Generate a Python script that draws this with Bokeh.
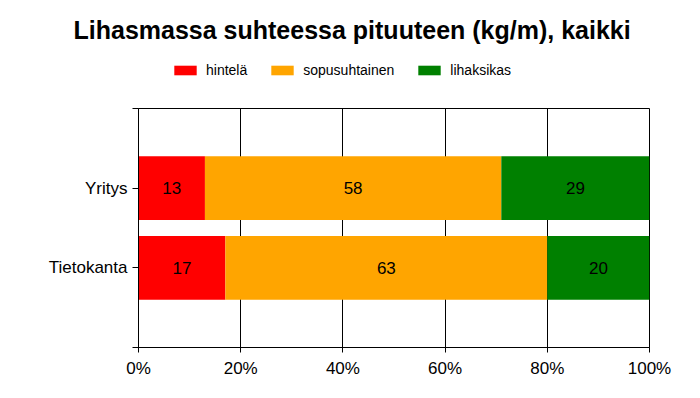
from bokeh.plotting import figure
from bokeh.models import ColumnDataSource, FixedTicker, Legend, LegendItem, LabelSet
from bokeh.layouts import column
from bokeh.core.properties import value
from bokeh.embed import file_html
from bokeh.resources import INLINE

categories = ["Tietokanta", "Yritys"]
hintela = [17, 13]
sopusuhtainen = [63, 58]
lihaksikas = [20, 29]
series_names = ["hintelä", "sopusuhtainen", "lihaksikas"]
colors = ["#ff0000", "#ffa500", "#008000"]
x_ticks = [0, 20, 40, 60, 80, 100]
title_text = "Lihasmassa suhteessa pituuteen (kg/m), kaikki"

font = "Liberation Sans"
W = 692

ypos = [i + 1 for i in range(len(categories))]
src = ColumnDataSource(dict(y=ypos, h=hintela, s=sopusuhtainen, l=lihaksikas))

# ---------- header figure: title + legend ----------
top = figure(width=W, height=104, x_range=(0, 100), y_range=(10, 11), title=title_text,
             x_axis_type=None, y_axis_type=None, output_backend="svg", toolbar_location=None,
             min_border_left=138, min_border_right=43, min_border_top=52, min_border_bottom=0)
top.outline_line_color = None
top.grid.visible = False
top.border_fill_color = "white"
top.background_fill_color = "white"
top.title.align = "left"
top.title.offset = -65
top.title.standoff = 17
top.title.text_font = font
top.title.text_font_size = "25px"
top.title.text_font_style = "bold"
top.title.text_color = "black"

# legend proxies: same data, drawn outside the header's visible y-range
legend_renderers = top.hbar_stack(["h", "s", "l"], y="y", height=0.8, color=colors, source=src, line_width=0)
leg = Legend(items=[LegendItem(label=n, renderers=[r]) for n, r in zip(series_names, legend_renderers)],
             orientation="horizontal", location=(33, 26),
             glyph_width=28, glyph_height=12, label_height=12,
             label_text_font=font, label_text_font_size="14px", label_text_color="black",
             label_standoff=7, spacing=21, padding=0, margin=0,
             border_line_color=None, background_fill_alpha=0)
top.add_layout(leg, "center")

# ---------- main chart ----------
p = figure(width=W, height=286, x_range=(0, 100), y_range=(0, 3),
           output_backend="svg", toolbar_location=None,
           min_border_left=138, min_border_right=43, min_border_top=4, min_border_bottom=43)

renderers = p.hbar_stack(["h", "s", "l"], y="y", height=0.8, color=colors, source=src, line_width=0)

vals = [hintela, sopusuhtainen, lihaksikas]
cum = [0] * len(categories)
lx, ly, lt = [], [], []
for v in vals:
    for i, val in enumerate(v):
        lx.append(cum[i] + val / 2)
        ly.append(ypos[i])
        lt.append(str(val))
        cum[i] += val
lsrc = ColumnDataSource(dict(x=lx, y=ly, t=lt))
p.add_layout(LabelSet(x="x", y="y", text="t", source=lsrc, text_align="center", text_baseline="middle",
                      text_font=value(font), text_font_size=value("17px"), text_color="black"))

p.xaxis.ticker = FixedTicker(ticks=x_ticks)
p.xaxis.major_label_overrides = {t: f"{t}%" for t in x_ticks}
p.yaxis.ticker = FixedTicker(ticks=[0] + ypos + [3])
ov = {0: "", 3: ""}
for i, c in enumerate(categories):
    ov[ypos[i]] = c
p.yaxis.major_label_overrides = ov
for ax in (p.xaxis, p.yaxis):
    ax.axis_line_color = "black"
    ax.major_tick_line_color = "black"
    ax.major_tick_in = 0
    ax.major_tick_out = 6
    ax.minor_tick_line_color = None
    ax.major_label_text_font = font
    ax.major_label_text_font_size = "17px"
    ax.major_label_text_color = "black"
    ax.major_label_standoff = 5
p.xaxis.major_tick_out = 5
p.xaxis.major_label_standoff = 6

p.xgrid.ticker = FixedTicker(ticks=x_ticks)
p.xgrid.grid_line_color = "black"
p.ygrid.ticker = FixedTicker(ticks=[0, 3])
p.ygrid.grid_line_color = "black"
p.outline_line_color = "black"
p.background_fill_color = "white"
p.border_fill_color = "white"

layout = column(top, p, spacing=0)
open("out.html", "w").write(file_html(layout, INLINE))
